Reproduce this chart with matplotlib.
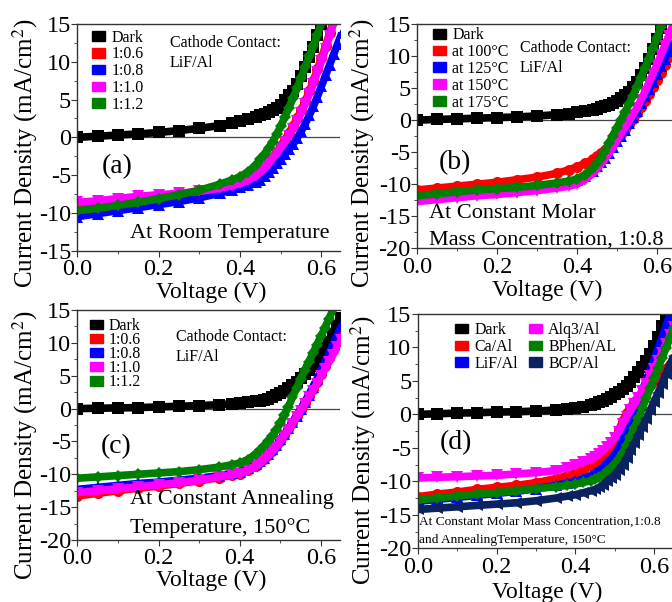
import matplotlib
matplotlib.use("Agg")
import matplotlib.pyplot as plt
import matplotlib.patches as mpatches
from matplotlib.ticker import MultipleLocator, FormatStrFormatter

plt.rcParams['font.family'] = ['Liberation Serif', 'DejaVu Serif']
plt.rcParams['mathtext.fontset'] = 'stix'
plt.rcParams['axes.unicode_minus'] = False

# voltage sweep (V), coarse in the flat part, fine near the knee
volt = [0.0, 0.05, 0.10, 0.15, 0.20, 0.25, 0.30, 0.35,
        0.38, 0.40, 0.42, 0.44,
        0.45, 0.46, 0.47, 0.48, 0.49, 0.50, 0.51, 0.52, 0.53, 0.54, 0.55,
        0.56, 0.57, 0.58, 0.59, 0.60, 0.61, 0.62, 0.63, 0.64, 0.65]

# (a) room temperature, donor:acceptor ratio
labels_a = ['Dark', '1:0.6', '1:0.8', '1:1.0', '1:1.2']
dark_a = [0.0, 0.15, 0.3, 0.45, 0.65, 0.9, 1.2, 1.55,
          1.85, 2.1, 2.4, 2.7,
          2.9, 3.1, 3.35, 3.65, 3.95, 4.3, 4.9, 5.6, 6.1, 7.0, 8.1,
          9.3, 10.6, 12.0, 13.5, 15.0, 16.6, 18.3, 20.0, 21.8, 23.6]
r06_a = [-9.3, -9.0, -8.7, -8.4, -8.0, -7.6, -7.1, -6.6,
         -6.2, -5.9, -5.5, -4.9,
         -4.4, -3.9, -3.3, -2.6, -1.9, -1.1, -0.3, 0.6, 1.5, 2.5, 3.6,
         4.8, 6.1, 7.5, 9.0, 10.5, 12.1, 13.8, 15.5, 17.2, 19.0]
r08_a = [-10.5, -10.1, -9.7, -9.3, -8.9, -8.5, -8.0, -7.4,
         -6.95, -6.6, -6.25, -5.9,
         -5.6, -5.1, -4.6, -4.0, -3.4, -2.8, -2.2, -1.6, -0.9, -0.1, 0.8,
         1.8, 2.9, 4.1, 5.4, 6.8, 8.2, 9.6, 11.0, 12.4, 13.8]
r10_a = [-8.6, -8.4, -8.1, -7.8, -7.6, -7.4, -7.15, -6.75,
         -6.4, -6.1, -5.65, -5.05,
         -4.6, -4.1, -3.5, -2.8, -2.1, -1.4, -0.6, 0.2, 1.1, 2.1, 3.2,
         4.4, 5.7, 7.1, 8.6, 10.1, 11.7, 13.4, 15.1, 16.8, 18.5]
r12_a = [-9.7, -9.4, -9.0, -8.6, -8.1, -7.6, -7.0, -6.2,
         -5.65, -5.2, -4.55, -3.6,
         -2.9, -2.2, -1.4, -0.6, 0.4, 1.5, 2.7, 3.9, 5.2, 6.5, 7.9,
         9.3, 10.7, 12.1, 13.6, 15.1, 16.7, 18.3, 19.9, 21.5, 23.1]

# (b) ratio 1:0.8, annealing temperature
labels_b = ['Dark', 'at 100°C', 'at 125°C', 'at 150°C', 'at 175°C']
dark_b = [0.0, 0.1, 0.2, 0.3, 0.4, 0.5, 0.65, 0.85,
          1.03, 1.2, 1.4, 1.6,
          1.8, 2.0, 2.2, 2.4, 2.7, 3.0, 3.4, 3.9, 4.4, 5.1, 5.9,
          7.0, 8.2, 9.6, 11.1, 12.7, 14.3, 16.0, 17.7, 19.4, 21.1]
t100_b = [-10.9, -10.6, -10.3, -10.0, -9.7, -9.3, -8.9, -8.3,
          -7.75, -7.3, -6.75, -6.1,
          -5.6, -5.1, -4.6, -4.0, -3.4, -2.8, -2.1, -1.4, -0.6, 0.2, 1.1,
          2.0, 3.0, 4.0, 5.1, 6.2, 7.4, 8.6, 9.8, 11.0, 12.2]
t125_b = [-12.0, -11.7, -11.4, -11.1, -10.8, -10.6, -10.3, -9.9,
          -9.6, -9.3, -8.7, -7.9,
          -7.2, -6.6, -5.9, -5.1, -4.2, -3.3, -2.4, -1.5, -0.5, 0.5, 1.5,
          2.6, 3.7, 4.8, 6.0, 7.2, 8.4, 9.6, 10.8, 12.0, 13.2]
t150_b = [-12.7, -12.4, -12.1, -11.8, -11.6, -11.3, -11.0, -10.6,
          -10.3, -10.0, -9.3, -8.3,
          -7.6, -6.9, -6.1, -5.2, -4.2, -3.2, -2.2, -1.2, -0.2, 0.8, 1.9,
          3.1, 4.4, 5.8, 7.2, 8.6, 10.1, 11.6, 13.2, 14.8, 16.4]
t175_b = [-11.8, -11.5, -11.2, -10.9, -10.7, -10.5, -10.2, -9.8,
          -9.5, -9.2, -8.5, -7.5,
          -6.7, -5.9, -4.8, -3.6, -2.4, -1.2, 0.0, 1.2, 2.5, 3.8, 5.2,
          6.6, 8.1, 9.6, 11.2, 12.8, 14.5, 16.2, 17.9, 19.6, 21.3]

# (c) annealed at 150 C, donor:acceptor ratio
labels_c = ['Dark', '1:0.6', '1:0.8', '1:1.0', '1:1.2']
dark_c = [0.0, 0.05, 0.1, 0.15, 0.25, 0.35, 0.45, 0.6,
          0.7, 0.8, 0.95, 1.1,
          1.2, 1.3, 1.5, 1.7, 2.0, 2.3, 2.7, 3.1, 3.6, 4.1, 4.6,
          5.2, 5.8, 6.5, 7.3, 8.2, 9.2, 10.2, 11.3, 12.5, 13.8]
r06_c = [-13.3, -12.9, -12.5, -12.1, -11.8, -11.4, -11.0, -10.5,
         -10.15, -9.9, -9.4, -8.7,
         -8.2, -7.7, -7.1, -6.4, -5.7, -4.9, -4.0, -3.1, -2.2, -1.2, -0.2,
         0.8, 1.9, 3.0, 4.1, 5.3, 6.5, 7.7, 8.9, 10.1, 11.3]
r08_c = [-12.3, -12.0, -11.7, -11.4, -11.2, -10.9, -10.6, -10.2,
         -9.85, -9.6, -9.1, -8.5,
         -8.0, -7.5, -6.9, -6.2, -5.5, -4.7, -3.9, -3.0, -2.1, -1.1, -0.1,
         1.0, 2.1, 3.3, 4.5, 5.8, 7.1, 8.4, 9.8, 11.2, 12.6]
r10_c = [-12.8, -12.5, -12.2, -11.9, -11.6, -11.3, -10.9, -10.4,
         -10.1, -9.9, -9.4, -8.8,
         -8.3, -7.8, -7.2, -6.5, -5.8, -5.0, -4.1, -3.2, -2.3, -1.3, -0.3,
         0.7, 1.7, 2.7, 3.8, 4.9, 6.0, 7.1, 8.2, 9.3, 10.4]
r12_c = [-10.6, -10.4, -10.2, -10.0, -9.8, -9.6, -9.3, -8.9,
         -8.55, -8.3, -7.75, -6.9,
         -6.3, -5.7, -5.0, -4.2, -3.3, -2.2, -1.0, 0.3, 1.7, 3.1, 4.5,
         5.8, 7.1, 8.4, 9.7, 11.0, 12.3, 13.7, 15.1, 16.5, 17.9]

# (d) cathode interlayer
labels_d = ['Dark', 'Ca/Al', 'LiF/Al', 'Alq3/Al', 'BPhen/AL', 'BCP/Al']
dark_d = [0.0, 0.1, 0.2, 0.25, 0.35, 0.4, 0.5, 0.65,
          0.8, 0.95, 1.15, 1.4,
          1.6, 1.8, 2.0, 2.3, 2.6, 3.0, 3.4, 3.8, 4.3, 4.9, 5.6,
          6.3, 7.1, 8.0, 9.0, 10.2, 11.6, 13.2, 15.0, 17.0, 19.2]
ca_d = [-12.3, -11.9, -11.6, -11.2, -10.9, -10.6, -10.2, -9.6,
        -9.15, -8.8, -8.3, -7.65,
        -7.2, -6.8, -6.2, -5.5, -4.7, -3.8, -2.4, -1.0, 0.2, 1.0, 1.8,
        2.5, 3.2, 3.8, 4.4, 5.0, 5.6, 6.2, 6.8, 7.4, 8.0]
lif_d = [-13.0, -12.7, -12.4, -12.1, -11.8, -11.5, -11.1, -10.6,
         -10.25, -10.0, -9.6, -9.15,
         -8.8, -8.4, -7.9, -7.3, -6.7, -6.0, -5.0, -3.8, -2.5, -1.0, 0.5,
         2.0, 3.5, 5.1, 6.7, 8.3, 9.9, 11.5, 13.2, 14.9, 16.6]
alq_d = [-9.5, -9.4, -9.3, -9.2, -9.1, -8.9, -8.7, -8.4,
         -7.95, -7.6, -7.15, -6.65,
         -6.3, -5.9, -5.4, -4.8, -4.2, -3.5, -2.6, -1.5, -0.4, 0.6, 1.5,
         2.5, 3.5, 4.6, 5.7, 6.8, 8.0, 9.2, 10.5, 11.8, 13.1]
bphen_d = [-12.8, -12.5, -12.2, -11.9, -11.7, -11.4, -11.1, -10.8,
           -10.6, -10.4, -10.15, -9.9,
           -9.7, -9.4, -9.0, -8.5, -8.0, -7.4, -6.6, -5.7, -4.6, -3.3, -2.0,
           -0.6, 0.9, 2.4, 3.9, 5.4, 6.9, 8.4, 9.9, 11.4, 12.9]
bcp_d = [-14.2, -14.0, -13.8, -13.6, -13.4, -13.2, -12.9, -12.5,
         -12.2, -12.0, -11.7, -11.4,
         -11.2, -10.9, -10.5, -10.0, -9.5, -9.0, -8.3, -7.5, -6.5, -5.3, -4.3,
         -3.1, -1.9, -0.7, 0.6, 1.9, 3.2, 4.6, 6.0, 7.4, 8.8]

colors5 = ['black', '#ff0000', '#0000ff', '#ff00ff', '#008000']
markers5 = ['s', 'o', '^', 'v', 'D']
colors6 = ['black', '#ff0000', '#0000ff', '#ff00ff', '#008000', '#0b2261']
markers6 = ['s', 'o', '^', 'v', 'D', '<']

fig = plt.figure(figsize=(6.72, 6.02), dpi=100)
W, H = 672.0, 602.0


def add_panel(left, top, right, bottom, xmax, ymin):
    ax = fig.add_axes([left / W, 1 - bottom / H, (right - left) / W, (bottom - top) / H])
    ax.set_xlim(0, xmax)
    ax.set_ylim(ymin, 15)
    ax.axhline(0, color='#444444', lw=0.9, zorder=0)
    ax.spines['right'].set_visible(False)
    for s in ['left', 'bottom', 'top']:
        ax.spines[s].set_color('#333333')
        ax.spines[s].set_linewidth(1.0)
    ax.xaxis.set_major_locator(MultipleLocator(0.2))
    ax.xaxis.set_minor_locator(MultipleLocator(0.1))
    ax.xaxis.set_major_formatter(FormatStrFormatter('%.1f'))
    ax.yaxis.set_major_locator(MultipleLocator(5))
    ax.yaxis.set_minor_locator(MultipleLocator(2.5))
    ax.tick_params(which='both', direction='out', color='#333333', top=False, right=False)
    ax.tick_params(which='major', length=4, labelsize=17.5, pad=0.5)
    ax.tick_params(which='minor', length=2.5)
    ax.tick_params(axis='x', which='major', pad=2)
    ax.set_xlabel('Voltage (V)', fontsize=17, va='center')
    ax.set_ylabel('Current Density (mA/cm$^2$)', fontsize=18, va='center')
    return ax


def draw_curves(ax, series, colors, markers):
    for ys, c, m in zip(series, colors, markers):
        ms = 6.5 if m == 'D' else 8
        ax.plot(volt, ys, '-', color=c, lw=5.5, marker=m, ms=ms, mew=0,
                solid_capstyle='butt', solid_joinstyle='round')


def add_legend(ax, labels, colors, x, y, ncol=1, spacing=0.05):
    handles = [mpatches.Patch(color=c, label=l) for l, c in zip(labels, colors)]
    ax.legend(handles=handles, loc='upper left', bbox_to_anchor=(x, y), ncol=ncol,
              frameon=False, fontsize=11.5, borderpad=0, borderaxespad=0,
              handlelength=0.8, handleheight=0.55, handletextpad=0.4,
              labelspacing=spacing, columnspacing=0.7)


# (a)
ax_a = add_panel(77.3, 24, 340, 250.7, 0.6455, -15)
draw_curves(ax_a, [dark_a, r06_a, r08_a, r10_a, r12_a], colors5, markers5)
add_legend(ax_a, labels_a, colors5, 0.056, 0.975)
ax_a.text(0.353, 0.872, 'Cathode Contact:\nLiF/Al', transform=ax_a.transAxes,
          fontsize=11.5, va='center', ha='left', linespacing=1.3)
ax_a.text(0.151, 0.369, '(a)', transform=ax_a.transAxes, fontsize=20, ha='center', va='center')
ax_a.text(0.581, 0.078, 'At Room Temperature', transform=ax_a.transAxes,
          fontsize=16, ha='center', va='center')
ax_a.yaxis.set_label_coords(-0.198, 0.431)
ax_a.xaxis.set_label_coords(0.51, -0.182)

# (b)
ax_b = add_panel(417, 24, 672, 248.3, 0.638, -20)
draw_curves(ax_b, [dark_b, t100_b, t125_b, t150_b, t175_b], colors5, markers5)
add_legend(ax_b, labels_b, colors5, 0.063, 0.985)
ax_b.text(0.404, 0.848, 'Cathode Contact:\nLiF/Al', transform=ax_b.transAxes,
          fontsize=11.5, va='center', ha='left', linespacing=1.3)
ax_b.text(0.149, 0.380, '(b)', transform=ax_b.transAxes, fontsize=20, ha='center', va='center')
ax_b.text(0.047, 0.157, 'At Constant Molar', transform=ax_b.transAxes,
          fontsize=16, ha='left', va='center')
ax_b.text(0.047, 0.037, 'Mass Concentration, 1:0.8', transform=ax_b.transAxes,
          fontsize=16, ha='left', va='center')
ax_b.yaxis.set_label_coords(-0.214, 0.425)
ax_b.xaxis.set_label_coords(0.51, -0.186)

# (c)
ax_c = add_panel(77.3, 310, 340, 540, 0.647, -20)
draw_curves(ax_c, [dark_c, r06_c, r08_c, r10_c, r12_c], colors5, markers5)
add_legend(ax_c, labels_c, colors5, 0.048, 0.965, spacing=-0.12)
ax_c.text(0.376, 0.839, 'Cathode Contact:\nLiF/Al', transform=ax_c.transAxes,
          fontsize=11.5, va='center', ha='left', linespacing=1.3)
ax_c.text(0.148, 0.404, '(c)', transform=ax_c.transAxes, fontsize=20, ha='center', va='center')
ax_c.text(0.201, 0.174, 'At Constant Annealing', transform=ax_c.transAxes,
          fontsize=16, ha='left', va='center')
ax_c.text(0.201, 0.052, 'Temperature, 150°C', transform=ax_c.transAxes,
          fontsize=16, ha='left', va='center')
ax_c.yaxis.set_label_coords(-0.198, 0.413)
ax_c.xaxis.set_label_coords(0.51, -0.174)

# (d)
ax_d = add_panel(417.7, 314, 672, 548.3, 0.6454, -20)
draw_curves(ax_d, [dark_d, ca_d, lif_d, alq_d, bphen_d, bcp_d], colors6, markers6)
add_legend(ax_d, labels_d, colors6, 0.147, 0.965, ncol=2)
ax_d.text(0.151, 0.449, '(d)', transform=ax_d.transAxes, fontsize=20, ha='center', va='center')
ax_d.text(0.005, 0.1135, 'At Constant Molar Mass Concentration,1:0.8', transform=ax_d.transAxes,
          fontsize=9.6, ha='left', va='center')
ax_d.text(0.005, 0.035, 'and AnnealingTemperature, 150°C', transform=ax_d.transAxes,
          fontsize=9.6, ha='left', va='center')
ax_d.yaxis.set_label_coords(-0.213, 0.42)
ax_d.xaxis.set_label_coords(0.51, -0.187)

fig.savefig('out.png', dpi=100)
